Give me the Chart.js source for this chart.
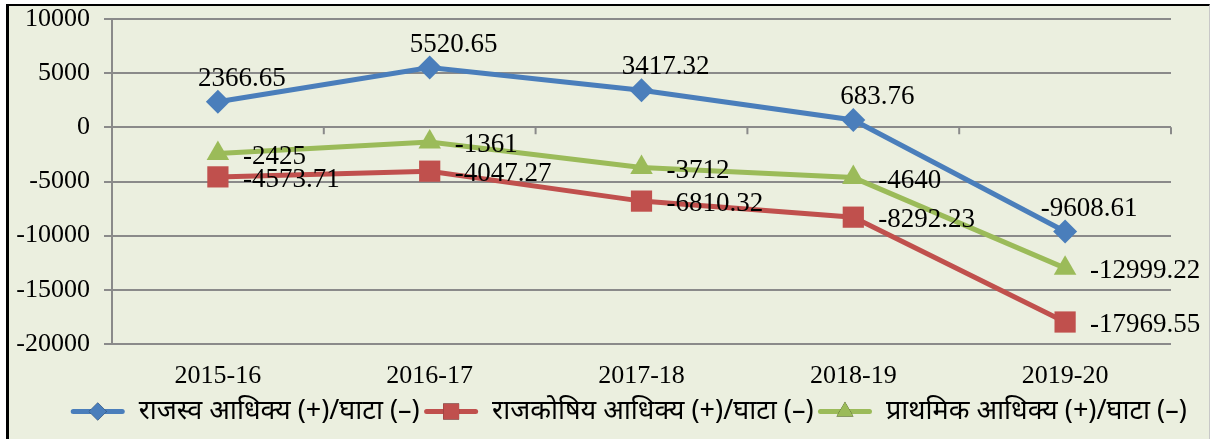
<!DOCTYPE html>
<html>
<head>
<meta charset="utf-8">
<script src="https://cdn.jsdelivr.net/npm/chart.js@4.4.1/dist/chart.umd.min.js"></script>
<style>
  body { margin: 0; background: #fff; }
  #frame {
    position: absolute; left: 6px; top: 4px; width: 1200px; height: 460px;
    background: #ebefdf;
    border-left: 3px solid #000; border-top: 2px solid #000; border-right: 1px solid #c8c8c8;
  }
  #chart { position: absolute; left: 0; top: 0; }
</style>
</head>
<body>
<div id="frame"></div>
<canvas id="chart" width="1210" height="439"></canvas>
<script>
var years = ['2015-16', '2016-17', '2017-18', '2018-19', '2019-20'];
var revenueBalance = [2366.65, 5520.65, 3417.32, 683.76, -9608.61];
var fiscalBalance = [-4573.71, -4047.27, -6810.32, -8292.23, -17969.55];
var primaryBalance = [-2425, -1361, -3712, -4640, -12999.22];
var yTicks = [10000, 5000, 0, -5000, -10000, -15000, -20000];

var seriesNames = [
  'राजस्व आधिक्य (+)/घाटा (–)',
  'राजकोषिय आधिक्य (+)/घाटा (–)',
  'प्राथमिक आधिक्य (+)/घाटा (–)'
];

var serif = '"Liberation Serif", "Times New Roman", serif';
var gridColor = '#8a8a8a';

// labels next to points, like the excel data labels
var pointLabels = {
  id: 'pointLabels',
  afterDatasetsDraw: function (chart) {
    var ctx = chart.ctx;
    ctx.save();
    ctx.font = '27px ' + serif;
    ctx.fillStyle = '#000';
    chart.data.datasets.forEach(function (ds, i) {
      var meta = chart.getDatasetMeta(i);
      meta.data.forEach(function (pt, j) {
        var txt = String(ds.data[j]);
        ctx.textBaseline = 'middle';
        if (ds.labelPos === 'top') {
          ctx.textAlign = 'center';
          ctx.fillText(txt, pt.x + 24, pt.y - 23);
        } else {
          ctx.textAlign = 'left';
          ctx.fillText(txt, pt.x + 25, pt.y + 3);
        }
      });
    });
    ctx.restore();
  }
};

// small tick marks on the zero line between categories
var zeroTicks = {
  id: 'zeroTicks',
  beforeDatasetsDraw: function (chart) {
    var x = chart.scales.x, y = chart.scales.y, ctx = chart.ctx;
    var y0 = y.getPixelForValue(0);
    ctx.save();
    ctx.strokeStyle = gridColor;
    ctx.lineWidth = 2;
    ctx.beginPath();
    for (var i = 0; i <= years.length; i++) {
      var px = x.getPixelForValue(i - 0.5);
      ctx.moveTo(px, y0);
      ctx.lineTo(px, y0 + 7);
    }
    ctx.stroke();
    ctx.restore();
  }
};

// nudge the legend a bit to the right, as in the original
var legendShift = {
  id: 'legendShift',
  beforeDraw: function (chart) {
    var lg = chart.legend, dx = 43;
    if (!lg) return;
    lg.left += dx;
    lg.right += dx;
    (lg.legendHitBoxes || []).forEach(function (b) { b.left += dx; });
  }
};

// legend samples: line with marker in the middle
var legendSamples = {
  id: 'legendSamples',
  afterDraw: function (chart) {
    var lg = chart.legend, ctx = chart.ctx;
    if (!lg || !lg.legendHitBoxes) return;
    lg.legendHitBoxes.forEach(function (box, i) {
      var ds = chart.data.datasets[i];
      var cy = box.top + box.height / 2;
      var x0 = box.left, x1 = box.left + 55;
      ctx.save();
      ctx.strokeStyle = ds.borderColor;
      ctx.lineWidth = 5;
      ctx.lineCap = 'round';
      ctx.beginPath();
      ctx.moveTo(x0 + 3, cy);
      ctx.lineTo(x1 - 3, cy);
      ctx.stroke();
      Chart.helpers.drawPoint(ctx, {
        pointStyle: ds.pointStyle, radius: ds.pointRadius * 0.75, borderWidth: 0
      }, (x0 + x1) / 2, cy);
      ctx.fillStyle = ds.backgroundColor;
      ctx.fill();
      ctx.restore();
    });
  }
};

new Chart(document.getElementById('chart'), {
  type: 'line',
  data: {
    labels: years,
    datasets: [
      {
        label: seriesNames[0], data: revenueBalance,
        borderColor: '#4a7ebb', backgroundColor: '#4a7ebb',
        pointStyle: 'rectRot', pointRadius: 12, labelPos: 'top'
      },
      {
        label: seriesNames[1], data: fiscalBalance,
        borderColor: '#c0504d', backgroundColor: '#c0504d',
        pointStyle: 'rect', pointRadius: 15, labelPos: 'right'
      },
      {
        label: seriesNames[2], data: primaryBalance,
        borderColor: '#9bbb59', backgroundColor: '#9bbb59',
        pointStyle: 'triangle', pointRadius: 13, labelPos: 'right'
      }
    ]
  },
  options: {
    responsive: false,
    animation: false,
    elements: {
      line: { borderWidth: 5, tension: 0 },
      point: { borderWidth: 0, hoverRadius: 12 }
    },
    layout: { padding: { top: 19, right: 39, left: 0, bottom: 4 } },
    plugins: {
      legend: {
        position: 'bottom',
        labels: {
          font: { family: '"Noto Sans", "DejaVu Sans", sans-serif', size: 27 },
          color: '#000',
          boxWidth: 55,
          boxHeight: 12,
          padding: 4,
          generateLabels: function (chart) {
            return chart.data.datasets.map(function (ds, i) {
              return {
                text: ds.label, datasetIndex: i,
                fillStyle: 'rgba(0,0,0,0)', strokeStyle: 'rgba(0,0,0,0)', lineWidth: 0
              };
            });
          }
        }
      },
      tooltip: { enabled: false }
    },
    scales: {
      x: {
        offset: true,
        grid: { display: false },
        border: { display: false },
        ticks: { color: '#000', font: { family: serif, size: 26 }, padding: 9 },
        afterFit: function (s) { s.height = 50; }
      },
      y: {
        min: -20000, max: 10000,
        afterBuildTicks: function (s) {
          s.ticks = yTicks.slice().reverse().map(function (v) { return { value: v }; });
        },
        grid: { color: gridColor, lineWidth: 2, tickLength: 8 },
        border: { color: gridColor, width: 2 },
        ticks: {
          color: '#000', font: { family: serif, size: 26 }, padding: 14,
          callback: function (v) { return String(v); }
        },
        afterFit: function (s) {
          s.width = 112;
          s.paddingTop = 0;
          s.paddingBottom = 0;
        }
      }
    }
  },
  plugins: [zeroTicks, pointLabels, legendShift, legendSamples]
});
</script>
</body>
</html>
